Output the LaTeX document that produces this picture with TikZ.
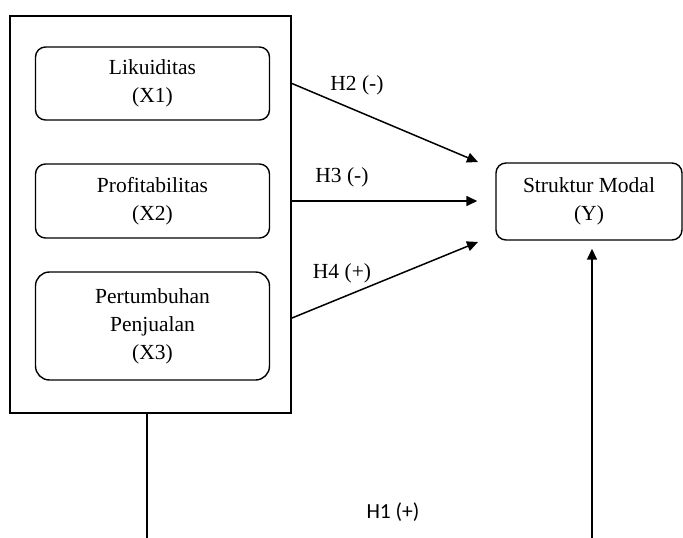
\documentclass[tikz,border=0pt]{standalone}
\usepackage{fontspec}
\setmainfont{Liberation Serif}
\newfontfamily\calibri{Carlito}
\usepackage{tikz}
\usetikzlibrary{arrows.meta,positioning}

\begin{document}
\begin{tikzpicture}[x=1pt, y=-1pt,
    every node/.style={font=\fontsize{21.5}{28}\selectfont},
    varbox/.style={draw, line width=1.4pt, rounded corners=10pt, align=center, minimum width=234pt, inner sep=0pt},
    link/.style={line width=1.5pt, -{Triangle[length=11pt,width=10pt]}}]
  \useasboundingbox (0,0) rectangle (683,538);
  % independent variables, framed together
  \node[draw, line width=2pt, minimum width=281pt, minimum height=397pt, inner sep=0pt] (grp) at (150.5,214.5) {};
  \node[varbox, minimum height=73pt] (lik) at (152.5,83.5) {Likuiditas\\(X1)};
  \node[varbox, minimum height=74pt] (prof) at (152.5,201) {Profitabilitas\\(X2)};
  \node[varbox, minimum height=108pt, rounded corners=14pt] (pert) at (152.5,326) {Pertumbuhan\\Penjualan\\(X3)};
  % dependent variable
  \node[varbox, minimum width=186pt, minimum height=77pt] (sm) at (589,201.5) {Struktur Modal\\(Y)};
  % partial effects
  \coordinate (tip2) at (478,162);
  \coordinate (tip4) at (478,242);
  \draw[link] (lik.east -| grp.east) -- (tip2);
  \draw[link, shorten >=18pt] (prof.east -| grp.east) -- (prof.east -| sm.west);
  \draw[link] (pert.east -| grp.east) ++(0,-8) -- (tip4);
  \node (h2) at (357,85) {H2 (-)};
  \node (h3) at (342,177) {H3 (-)};
  \node (h4) at (342,273) {H4 (+)};
  % simultaneous effect
  \coordinate (bl) at (147,538);
  \coordinate (br) at (592,538);
  \draw[line width=1.5pt] (grp.south -| bl) -- (bl);
  \draw[link, shorten >=8pt] (br) -- (br |- sm.south);
  \node (h1) at (393,512) {\calibri H1 (+)};
\end{tikzpicture}
\end{document}
